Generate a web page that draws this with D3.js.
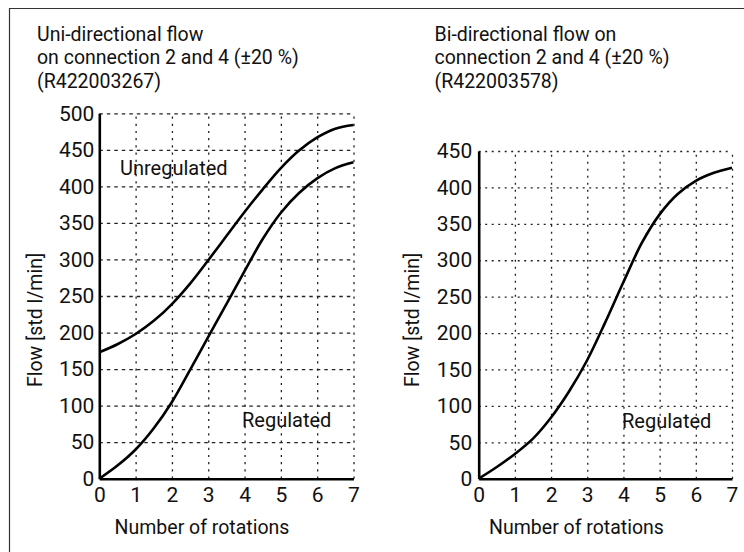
<!DOCTYPE html>
<html><head><meta charset="utf-8">
<script src="https://cdn.jsdelivr.net/npm/d3@7"></script>
<style>
body{margin:0;background:#fff;}
svg text{font-family:Roboto,"Open Sans",sans-serif;fill:#111;}
</style></head>
<body>
<svg id="c" width="744" height="552"></svg>
<script>
// ---- data ----
const xTicks = [0,1,2,3,4,5,6,7];
const leftYTicks = [0,50,100,150,200,250,300,350,400,450,500];
const rightYTicks = [0,50,100,150,200,250,300,350,400,450];
const rotations = [0,0.5,1,1.5,2,2.5,3,3.5,4,4.5,5,5.5,6,6.5,7];
const leftUnregulated = [173,184,198,216,239,267,299,332,365,396,425,449,467,479,484];
const leftRegulated   = [0,18,40,69,105,149,194,239,284,328,364,391,411,425,433];
const rightRegulated  = [0,16,34,55,84,120,163,215,270,323,363,391,409,420,427];
const leftTitle  = ["Uni-directional flow","on connection 2 and 4 (±20 %)","(R422003267)"];
const rightTitle = ["Bi-directional flow on","connection 2 and 4 (±20 %)","(R422003578)"];
const xLabel = "Number of rotations";
const yLabel = "Flow [std l/min]";

const FONT = "Roboto";
const svg = d3.select("#c");

// outer frame (top and left edges)
svg.append("path").attr("d","M9.5,552 V8.5 H744").attr("fill","none").attr("stroke","#333").attr("stroke-width",1.2);

function panel(opt){
  const g = svg.append("g");
  const x = d3.scaleLinear().domain([0,7]).range([opt.x0, opt.x1]);
  const y = d3.scaleLinear().domain([0,opt.ymax]).range([478.7, opt.ytop]);
  // horizontal grid
  const hg = g.append("g").attr("transform",`translate(${opt.x0},0)`)
    .call(d3.axisRight(y).tickValues(opt.yTicks.filter(v=>v>0)).tickSize(opt.x1-opt.x0).tickFormat(""));
  hg.select(".domain").remove();
  hg.selectAll("line").attr("stroke","#222").attr("stroke-width",1.3).attr("stroke-dasharray",opt.hdash);
  // vertical grid
  const vg = g.append("g").attr("transform",`translate(0,${y(0)})`)
    .call(d3.axisTop(x).tickValues(xTicks.filter(v=>v>0)).tickSize(y(0)-y(opt.ymax)).tickFormat(""));
  vg.select(".domain").remove();
  vg.selectAll("line").attr("stroke","#222").attr("stroke-width",1.3).attr("stroke-dasharray",opt.vdash);
  // axes
  const ya = g.append("g").attr("transform",`translate(${opt.x0},0)`)
    .call(d3.axisLeft(y).tickValues(opt.yTicks).tickSize(0).tickPadding(opt.ypad).tickFormat(d3.format("d")));
  ya.select(".domain").attr("stroke","#000").attr("stroke-width",2.6);
  ya.selectAll("text").attr("font-size",21).attr("font-family",FONT).attr("fill","#111");
  const xa = g.append("g").attr("transform",`translate(0,${y(0)})`)
    .call(d3.axisBottom(x).tickValues(xTicks).tickSize(0).tickPadding(8).tickFormat(d3.format("d")));
  xa.select(".domain").attr("stroke","#000").attr("stroke-width",2.6);
  xa.selectAll("text").attr("font-size",21).attr("font-family",FONT).attr("fill","#111");
  // curves
  const line = d3.line().x((d,i)=>x(rotations[i])).y(d=>y(d)).curve(d3.curveCatmullRom.alpha(0.5));
  opt.series.forEach(s=>{
    g.append("path").datum(s).attr("d",line).attr("fill","none").attr("stroke","#000").attr("stroke-width",2.6);
  });
  // titles (one text per line)
  opt.title.forEach((l,i)=>g.append("text").attr("x",opt.tx).attr("y",41+i*23.3).attr("font-size",19.5).text(l));
  g.append("text").attr("x",opt.xlx).attr("y",534).attr("text-anchor","middle").attr("font-size",19.5).text(xLabel);
  g.append("text").attr("transform",`translate(${opt.ylx},320) rotate(-90)`).attr("text-anchor","middle").attr("font-size",19.5).text(yLabel);
  opt.notes.forEach(n=>g.append("text").attr("x",n.x).attr("y",n.y).attr("font-size",20).text(n.t));
}

panel({x0:99.3,x1:353.5,ytop:113.3,ymax:500,yTicks:leftYTicks,ypad:5,hdash:"3.5,4",vdash:"2.2,5",
  series:[leftUnregulated,leftRegulated],title:leftTitle,tx:37,xlx:202,ylx:41.5,
  notes:[{t:"Unregulated",x:120,y:174.5},{t:"Regulated",x:242,y:427}]});
panel({x0:478.7,x1:732,ytop:151,ymax:450,yTicks:rightYTicks,ypad:6.5,hdash:"2,4.5",vdash:"2,5",
  series:[rightRegulated],title:rightTitle,tx:434.5,xlx:576.5,ylx:419,
  notes:[{t:"Regulated",x:622,y:427.5}]});
</script>
</body></html>
